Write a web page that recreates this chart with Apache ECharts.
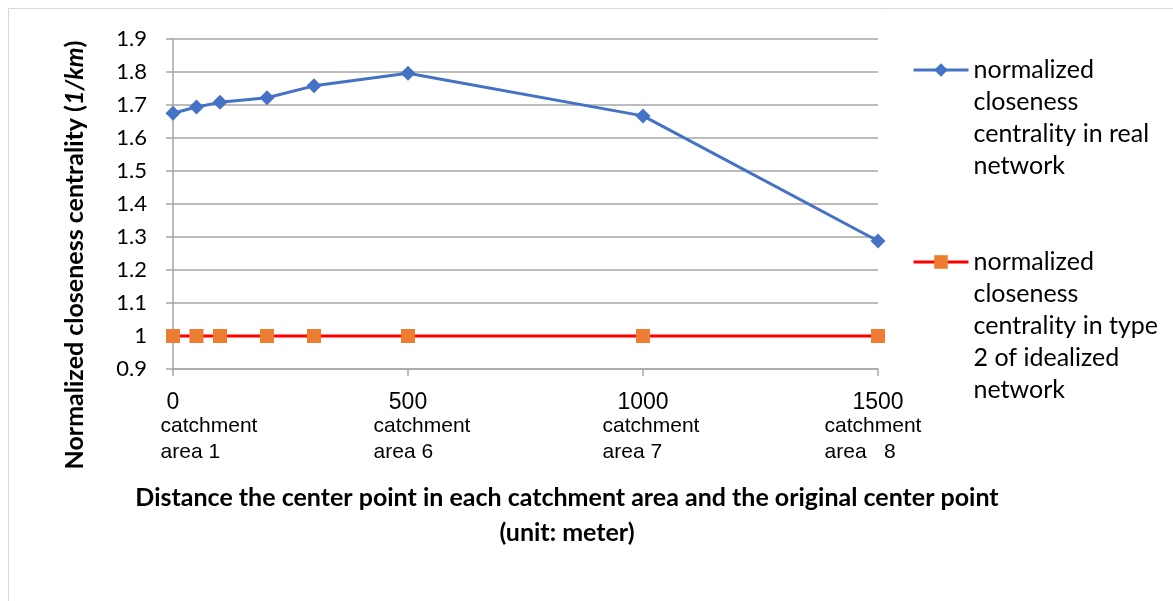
<!DOCTYPE html>
<html>
<head>
<meta charset="utf-8">
<script src="https://cdn.jsdelivr.net/npm/echarts@6/dist/echarts.min.js"></script>
<style>
html,body{margin:0;padding:0;background:#fff;}
#chart{width:1173px;height:601px;}
</style>
</head>
<body>
<div id="chart"></div>
<script>
// ---- data ----
const distances = [0, 50, 100, 200, 300, 500, 1000, 1500];
const realNetwork = [1.675, 1.694, 1.708, 1.722, 1.758, 1.796, 1.667, 1.288];
const idealNetwork = [1, 1, 1, 1, 1, 1, 1, 1];
const tickValues = [0, 500, 1000, 1500];
const catchmentLabels = ['catchment\narea 1', 'catchment\narea 6', 'catchment\narea 7', 'catchment\narea   8'];
const seriesNames = ['real', 'ideal'];
const legendTexts = [
  'normalized\ncloseness\ncentrality in real\nnetwork',
  'normalized\ncloseness\ncentrality in type\n2 of idealized\nnetwork'
];
const yTitle = 'Normalized closeness centrality (';
const yTitleUnit = '1/km';
const xTitle = 'Distance the center point in each catchment area and the original center point\n(unit: meter)';

// ---- styles ----
const catchPad = [[0,0,0,72],[0,0,0,28],[0,0,0,16],[0,10,0,0]];
const legendLH = 32;

const chart = echarts.init(document.getElementById('chart'));
const rich = {};
catchPad.forEach((p, i) => {
  rich['c' + i] = {fontFamily: 'Liberation Sans', fontSize: 21, color: '#000', align: 'left', lineHeight: 26, padding: p};
});

function legendCfg(idx, iconY) {
  const n = legendTexts[idx].split('\n').length;
  const blank = ' \n'.repeat(n - 1);
  return {
    show: true, data: [seriesNames[idx]], left: 912, top: iconY - (2 * n - 1) * legendLH / 2, padding: 0,
    itemWidth: 55, itemHeight: 17,
    lineStyle: {width: 3},
    formatter: () => blank + legendTexts[idx],
    textStyle: {fontFamily: 'Lato', fontSize: 25, color: '#000', lineHeight: legendLH}
  };
}

const axisGray = '#a6a6a6';
chart.setOption({
  animation: false,
  backgroundColor: '#fff',
  grid: {left: 173, right: 295, top: 39, bottom: 232, containLabel: false},
  legend: [legendCfg(0, 70), legendCfg(1, 262)],
  xAxis: [{
    type: 'value', position: 'bottom', min: 0, max: 1500, interval: 500,
    axisLine: {show: true, onZero: false, lineStyle: {color: axisGray, width: 1.5}},
    axisTick: {show: true, length: 7, lineStyle: {color: axisGray, width: 1.5}},
    splitLine: {show: false},
    axisLabel: {margin: 22, fontFamily: 'Liberation Sans', fontSize: 23, color: '#000', formatter: v => String(v)}
  }, {
    type: 'value', position: 'bottom', min: 0, max: 1500, interval: 500,
    axisLine: {show: false, onZero: false}, axisTick: {show: false}, splitLine: {show: false},
    axisLabel: {
      margin: 44, rich: rich,
      formatter: v => {
        const i = tickValues.indexOf(v);
        if (i < 0) return '';
        return catchmentLabels[i].split('\n').map(s => '{c' + i + '|' + s + '}').join('\n');
      }
    }
  }],
  yAxis: {
    type: 'value', min: 0.9, max: 1.9, interval: 0.1,
    axisLine: {show: true, lineStyle: {color: axisGray, width: 1.5}},
    axisTick: {show: true, length: 7, lineStyle: {color: axisGray, width: 1.5}},
    splitLine: {show: true, lineStyle: {color: axisGray, width: 1.5}},
    axisLabel: {margin: 26, fontFamily: 'Lato', fontSize: 22, color: '#000',
      formatter: v => String(parseFloat(v.toFixed(1)))}
  },
  graphic: [
    {type: 'rect', shape: {x: 8.5, y: 8.5, width: 1200, height: 700}, style: {fill: 'none', stroke: '#d9d9d9', lineWidth: 1}, silent: true},
    {type: 'text', x: 75, y: 255, rotation: Math.PI / 2,
      style: {text: '{b|' + yTitle + '}{i|' + yTitleUnit + '}{b|)}', align: 'center', verticalAlign: 'middle',
        rich: {b: {fontFamily: 'Lato', fontWeight: 'bold', fontSize: 25, fill: '#000'},
               i: {fontFamily: 'Lato', fontWeight: 'bold', fontStyle: 'italic', fontSize: 25, fill: '#000'}}}},
    {type: 'text', x: 567, y: 515,
      style: {text: xTitle, align: 'center', verticalAlign: 'middle', fontFamily: 'Lato', fontWeight: 'bold', fontSize: 25, lineHeight: 35, fill: '#000'}}
  ],
  series: [{
    name: seriesNames[0], type: 'line', data: distances.map((d, i) => [d, realNetwork[i]]),
    symbol: 'diamond', symbolSize: 15, lineStyle: {color: '#4472C4', width: 3},
    itemStyle: {color: '#4472C4'}
  }, {
    name: seriesNames[1], type: 'line', data: distances.map((d, i) => [d, idealNetwork[i]]),
    symbol: 'rect', symbolSize: 14, lineStyle: {color: '#FF0000', width: 3},
    itemStyle: {color: '#ED7D31'}
  }]
});
</script>
</body>
</html>
